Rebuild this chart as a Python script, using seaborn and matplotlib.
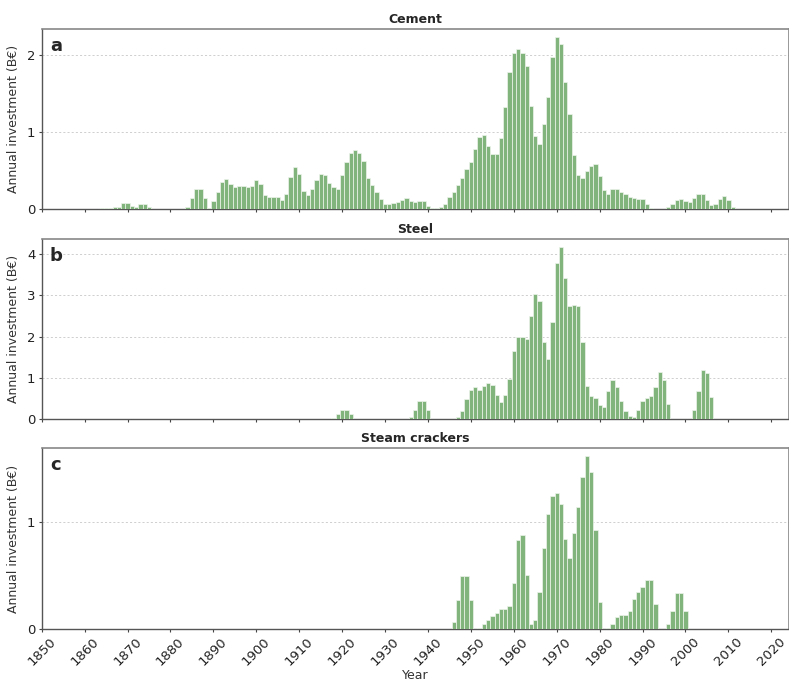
import matplotlib
matplotlib.use("Agg")
import matplotlib.pyplot as plt
import numpy as np
import pandas as pd
import seaborn as sns

# ---------------- data (B€ per year) ----------------
cement_start = 1864
cement_values = [
    0.01, 0.01, 0.01, 0.02, 0.03, 0.08, 0.08, 0.04, 0.02, 0.065, 0.065, 0.02,   # 1864-1875
    0, 0, 0, 0, 0, 0, 0, 0,                                                     # 1876-1883
    0.03, 0.14, 0.26, 0.26, 0.14, 0.01,                                         # 1884-1889
    0.10, 0.22, 0.35, 0.39, 0.33, 0.29, 0.30, 0.30, 0.29, 0.30,                 # 1890-1899
    0.38, 0.33, 0.18, 0.15, 0.15, 0.15, 0.12, 0.19, 0.41, 0.54,                 # 1900-1909
    0.46, 0.24, 0.18, 0.26, 0.38, 0.46, 0.44, 0.34, 0.28, 0.26,                 # 1910-1919
    0.44, 0.61, 0.73, 0.76, 0.73, 0.62, 0.40, 0.31, 0.22, 0.13,                 # 1920-1929
    0.065, 0.07, 0.08, 0.095, 0.12, 0.14, 0.11, 0.09, 0.10, 0.10,               # 1930-1939
    0.04, 0.01, 0.01, 0.02, 0.07, 0.15, 0.22, 0.31, 0.40, 0.52,                 # 1940-1949
    0.61, 0.78, 0.94, 0.96, 0.82, 0.71, 0.71, 0.92, 1.32, 1.78,                 # 1950-1959
    2.02, 2.08, 2.02, 1.86, 1.34, 0.95, 0.85, 1.10, 1.46, 1.98,                 # 1960-1969
    2.23, 2.14, 1.65, 1.23, 0.70, 0.44, 0.40, 0.49, 0.56, 0.59,                 # 1970-1979
    0.43, 0.25, 0.20, 0.26, 0.26, 0.22, 0.20, 0.16, 0.14, 0.13,                 # 1980-1989
    0.13, 0.06, 0.01, 0, 0, 0, 0.02, 0.07, 0.12, 0.13,                          # 1990-1999
    0.10, 0.095, 0.14, 0.19, 0.20, 0.12, 0.05, 0.065, 0.13, 0.17,               # 2000-2009
    0.12, 0.02,                                                                 # 2010-2011
]

steel_start = 1918
steel_values = [
    0.04, 0.12, 0.23, 0.23, 0.12,                                               # 1918-1922
    0, 0, 0, 0, 0, 0, 0, 0, 0, 0, 0, 0, 0,                                      # 1923-1935
    0.05, 0.23, 0.45, 0.45, 0.23,                                               # 1936-1940
    0, 0, 0, 0, 0, 0,                                                           # 1941-1946
    0.05, 0.21, 0.50,                                                           # 1947-1949
    0.72, 0.78, 0.72, 0.80, 0.88, 0.83, 0.59, 0.43, 0.59, 0.98,                 # 1950-1959
    1.64, 1.99, 1.99, 1.94, 2.50, 3.03, 2.85, 1.86, 1.46, 2.36,                 # 1960-1969
    3.77, 4.16, 3.41, 2.73, 2.77, 2.75, 1.86, 0.81, 0.56, 0.52,                 # 1970-1979
    0.35, 0.30, 0.69, 0.94, 0.77, 0.45, 0.19, 0.08, 0.06, 0.23,                 # 1980-1989
    0.44, 0.51, 0.56, 0.79, 1.15, 0.94, 0.37, 0, 0, 0,                          # 1990-1999
    0, 0, 0.23, 0.69, 1.19, 1.12, 0.55,                                         # 2000-2006
]

steam_start = 1946
steam_values = [
    0.07, 0.27, 0.50, 0.50,                                                     # 1946-1949
    0.27, 0, 0.01, 0.05, 0.09, 0.125, 0.15, 0.19, 0.19, 0.215,                  # 1950-1959
    0.43, 0.83, 0.88, 0.51, 0.05, 0.09, 0.35, 0.76, 1.07, 1.24,                 # 1960-1969
    1.27, 1.17, 0.84, 0.66, 0.90, 1.14, 1.42, 1.61, 1.46, 0.92,                 # 1970-1979
    0.25, 0, 0.01, 0.05, 0.11, 0.13, 0.13, 0.17, 0.28, 0.35,                    # 1980-1989
    0.39, 0.46, 0.46, 0.24, 0, 0, 0.05, 0.17, 0.34, 0.34,                       # 1990-1999
    0.17,                                                                       # 2000
]

panel_titles = ["Cement", "Steel", "Steam crackers"]
panel_letters = ["a", "b", "c"]
panel_yticks = [[0, 1, 2], [0, 1, 2, 3, 4], [0, 1]]
year_ticks = list(range(1850, 2021, 10))
ylabel_text = "Annual investment (B€)"
xlabel_text = "Year"

series = [(cement_start, cement_values), (steel_start, steel_values), (steam_start, steam_values)]

# ---------------- style ----------------
sns.set_theme(style="ticks")
plt.rcParams["font.family"] = ["DejaVu Sans"]

BAR_COLOR = "#80b47c"
EDGE_COLOR = "#eef5ec"

fig = plt.figure(figsize=(7.89, 6.82), dpi=100)
W, H = 789.0, 682.0
left_px, right_px = 41.7, 788.5
panel_px = [(28.7, 209.0), (238.7, 419.3), (447.7, 629.3)]

axes = []
for i, ((start, vals), (top_px, bot_px)) in enumerate(zip(series, panel_px)):
    ax = fig.add_axes([left_px / W, 1 - bot_px / H,
                       (right_px - left_px) / W, (bot_px - top_px) / H])
    df = pd.DataFrame({"year": np.arange(start, start + len(vals)), "value": vals})
    sns.barplot(data=df, x="year", y="value", native_scale=True, ax=ax,
                color=BAR_COLOR, saturation=1, width=1.0, errorbar=None,
                edgecolor=EDGE_COLOR, linewidth=0.5, zorder=3)
    ax.set_xlim(1850, 2024)
    ax.set_ylim(0, max(vals) * 1.05)
    ax.set_yticks(panel_yticks[i])
    ax.set_xticks(year_ticks)
    ax.yaxis.grid(True, linestyle=(0, (2.5, 2.5)), linewidth=0.6, color="#c8c8c8", zorder=0)
    ax.set_axisbelow(True)
    ax.set_title(panel_titles[i], fontsize=9, fontweight="bold", pad=4)
    ax.text(0.011, 0.955, panel_letters[i], transform=ax.transAxes,
            fontsize=13, fontweight="bold", va="top", ha="left")
    ax.set_ylabel(ylabel_text, fontsize=9, color="#333333", labelpad=5)
    ax.tick_params(axis="both", labelsize=9.5, length=2.5, width=0.8, pad=2,
                   colors="#444444", labelcolor="#222222")
    for side in ["left", "bottom"]:
        ax.spines[side].set_color("#555555")
        ax.spines[side].set_linewidth(1.0)
    for side in ["top", "right"]:
        ax.spines[side].set_visible(True)
        ax.spines[side].set_color("#888888")
        ax.spines[side].set_linewidth(1.2)
    if i < 2:
        ax.set_xticklabels([])
        ax.set_xlabel("")
    else:
        ax.set_xticklabels([str(y) for y in year_ticks], rotation=45, ha="center")
        ax.set_xlabel(xlabel_text, fontsize=9, color="#333333", labelpad=0)
    axes.append(ax)

fig.savefig("out.png", dpi=100)
